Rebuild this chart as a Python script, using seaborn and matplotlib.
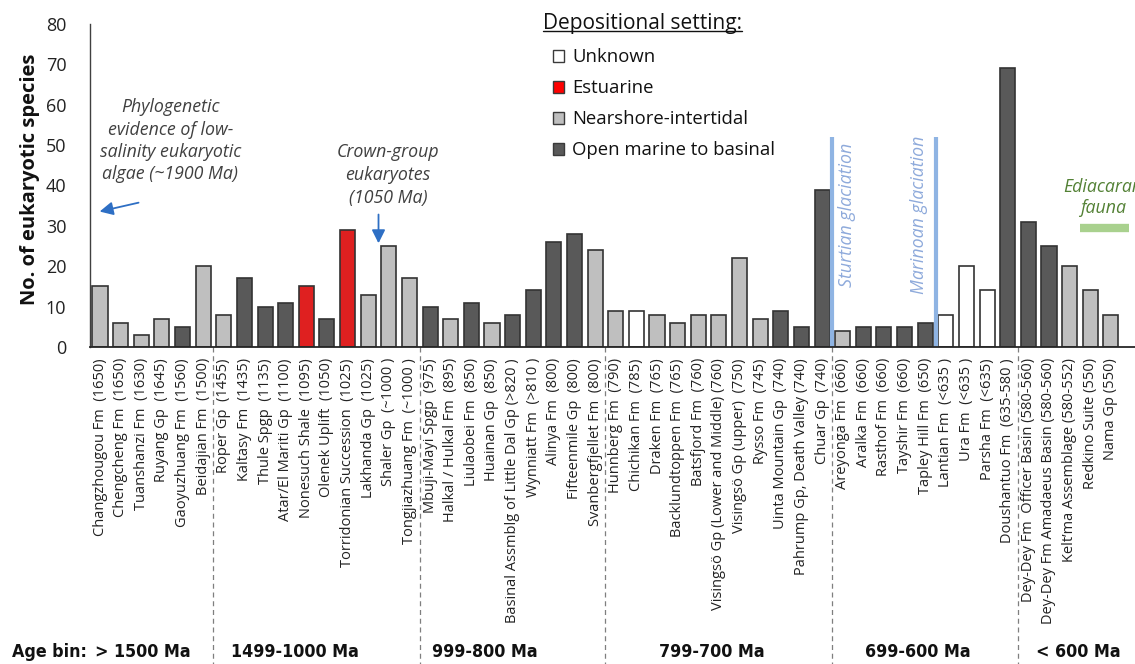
import matplotlib
matplotlib.use("Agg")
import matplotlib.pyplot as plt
import seaborn as sns
import pandas as pd
from matplotlib.patches import Patch
from matplotlib.lines import Line2D
import matplotlib.transforms as mtrans

# ---------------- data ----------------
formations = [
    "Changzhougou Fm  (1650)", "Chengcheng Fm  (1650)", "Tuanshanzi Fm  (1630)",
    "Ruyang Gp  (1645)", "Gaoyuzhuang Fm  (1560)", "Beidajian Fm  (1500)",
    "Roper Gp  (1455)", "Kaltasy Fm  (1435)", "Thule Spgp  (1135)",
    "Atar/El Mariti Gp  (1100)", "Nonesuch Shale  (1095)", "Olenek Uplift  (1050)",
    "Torridonian Succession  (1025)", "Lakhanda Gp  (1025)", "Shaler Gp  (~1000 )",
    "Tongjiazhuang Fm  (~1000 )",
    "Mbuji-Mayi Spgp  (975)", "Halkal / Hulkal Fm  (895)", "Liulaobei Fm  (850)",
    "Huainan Gp  (850)", "Basinal Assmblg of Little Dal Gp (>820 )", "Wynniatt Fm  (>810 )",
    "Alinya Fm  (800)", "Fifteenmile Gp  (800)", "Svanbergfjellet Fm  (800)",
    "Hunnberg Fm  (790)", "Chichikan Fm  (785)", "Draken Fm  (765)",
    "Backlundtoppen Fm  (765)", "Batsfjord Fm  (760)", "Visingsö Gp (Lower and Middle) (760)",
    "Visingsö Gp (upper)  (750)", "Rysso Fm  (745)", "Uinta Mountain Gp  (740)",
    "Pahrump Gp, Death Valley (740)", "Chuar Gp  (740)",
    "Areyonga Fm  (660)", "Aralka Fm  (660)", "Rasthof Fm  (660)", "Tayshir Fm  (660)",
    "Tapley Hill Fm  (650)", "Lantian Fm  (<635 )", "Ura Fm  (<635 )", "Parsha Fm  (<635)",
    "Doushantuo Fm  (635-580 )",
    "Dey-Dey Fm  Officer Basin (580-560)", "Dey-Dey Fm Amadaeus Basin (580-560)",
    "Kelt\u2019ma Assemblage (580-552)", "Redkino Suite (550)", "Nama Gp (550)",
]

species = [15, 6, 3, 7, 5, 20,
           8, 17, 10, 11, 15, 7, 29, 13, 25, 17,
           10, 7, 11, 6, 8, 14, 26, 28, 24,
           9, 9, 8, 6, 8, 8, 22, 7, 9, 5, 39,
           4, 5, 5, 5, 6, 8, 20, 14, 69,
           31, 25, 20, 14, 8]

U, E, N, O = "Unknown", "Estuarine", "Nearshore-intertidal", "Open marine to basinal"
settings = [N, N, N, N, O, N,
            N, O, O, O, E, O, E, N, N, N,
            O, N, O, N, O, O, O, O, N,
            N, U, N, N, N, N, N, N, O, O, O,
            N, O, O, O, O, U, U, U, O,
            O, O, N, N, N]

setting_order = [U, E, N, O]
age_bins = ["> 1500 Ma", "1499-1000 Ma", "999-800 Ma", "799-700 Ma", "699-600 Ma", "< 600 Ma"]
bin_sizes = [6, 10, 9, 11, 9, 5]

# ---------------- style ----------------
palette = {U: "#FFFFFF", E: "#FF0000", N: "#BFBFBF", O: "#595959"}
W, H = 1135, 664

sns.set_style("white")
plt.rcParams["font.family"] = ["Open Sans", "DejaVu Sans"]

fig = plt.figure(figsize=(W / 100, H / 100), dpi=100)
ax = fig.add_axes([90 / W, 1 - 347 / H, (W - 90) / W, (347 - 24) / H])

df = pd.DataFrame({"formation": formations, "n": species, "setting": settings})
sns.barplot(data=df, x="formation", y="n", hue="setting", order=formations,
            hue_order=setting_order, palette=palette, dodge=False, width=0.73,
            edgecolor="#333333", linewidth=1.2, errorbar=None, legend=False, ax=ax)

ax.set_xlim(-0.485, 50.17)
ax.set_ylim(0, 80)
ax.set_yticks(range(0, 81, 10))
ax.set_xlabel("")
ax.set_ylabel("No. of eukaryotic species", fontsize=14.5, fontweight="bold", color="#111111")
ax.yaxis.set_label_coords(-0.048, 0.52)
ax.tick_params(axis="y", length=0, pad=17, labelsize=13, labelcolor="#222222")
ax.tick_params(axis="x", length=0, pad=8, labelsize=10.5, labelcolor="#222222")
for lab in ax.get_xticklabels():
    lab.set_rotation(90)
for s in ["top", "right"]:
    ax.spines[s].set_visible(False)
ax.spines["left"].set_color("#404040")
ax.spines["bottom"].set_color("#262626")
ax.spines["left"].set_linewidth(1.0)
ax.spines["bottom"].set_linewidth(1.3)

def fx(px):
    return px / W

def fy(py):
    return 1 - py / H

# age-bin dividers (dashed, below axis)
blend = mtrans.blended_transform_factory(ax.transData, fig.transFigure)
cum = 0
for size in bin_sizes[:-1]:
    cum += size
    ax.plot([cum - 0.5, cum - 0.5], [fy(347), 0], transform=blend, clip_on=False,
            color="#7F7F7F", lw=0.9, ls=(0, (4, 3)))

# age bin labels
bin_font = dict(fontsize=12.8, fontweight="bold", family=["DejaVu Sans"],
                fontstretch="condensed", color="#111111")
fig.text(fx(12), fy(652), "Age bin:", ha="left", va="center", **bin_font)
bin_centers_px = [143, 295, 485, 712, 918, 1078]
for lab, cx in zip(age_bins, bin_centers_px):
    fig.text(fx(cx), fy(652), lab, ha="center", va="center", **bin_font)

# glaciation lines
glac_color = "#8FB4E3"
ax.vlines([35.5, 40.5], 0, 52, color=glac_color, lw=3)
ax.text(36.2, 32.7, "Sturtian glaciation", rotation=90, ha="center", va="center",
        fontsize=12.8, style="italic", color="#8EAADB")
ax.text(39.7, 32.7, "Marinoan glaciation", rotation=90, ha="center", va="center",
        fontsize=12.8, style="italic", color="#8EAADB")

# Ediacaran fauna
ax.hlines(29.5, 47.5, 49.9, color="#A9D18E", lw=6)
ax.text(48.6, 37.0, "Ediacaran\nfauna", ha="center", va="center", fontsize=12.8,
        style="italic", color="#538135", linespacing=1.25)

# annotations
arrow_col = "#2E6FC4"
ax.text(3.4, 51.1, "Phylogenetic\nevidence of low-\nsalinity eukaryotic\nalgae (~1900 Ma)",
        ha="center", va="center", fontsize=12.8, style="italic", color="#404040", linespacing=1.3)
ax.annotate("", xy=(-0.15, 33.4), xytext=(2.0, 35.9),
            arrowprops=dict(arrowstyle="-|>", color=arrow_col, lw=1.3, mutation_scale=20))
ax.text(13.95, 42.6, "Crown-group\neukaryotes\n(1050 Ma)",
        ha="center", va="center", fontsize=12.8, style="italic", color="#404040", linespacing=1.33)
ax.annotate("", xy=(13.5, 25.0), xytext=(13.5, 33.5),
            arrowprops=dict(arrowstyle="-|>", color=arrow_col, lw=1.3, mutation_scale=20))

# legend
title = fig.text(fx(543), fy(28.5), "Depositional setting:", ha="left", va="baseline",
                 fontsize=15, color="#111111")
handles = [Patch(facecolor=palette[s], edgecolor="#3A3A3A", linewidth=1.0) for s in setting_order]
leg = ax.legend(handles, setting_order, loc="upper left",
                bbox_to_anchor=(fx(553), fy(48.5)), bbox_transform=fig.transFigure,
                frameon=False, fontsize=13.3, handlelength=0.6,
                handleheight=0.6, handletextpad=0.45, labelspacing=0.7,
                borderaxespad=0, borderpad=0)
for t in leg.get_texts():
    t.set_color("#111111")
fig.canvas.draw()
r = fig.canvas.get_renderer()
bb = title.get_window_extent(r)
ul = Line2D([bb.x0 / W, bb.x1 / W], [fy(31), fy(31)],
            transform=fig.transFigure, color="#111111", lw=1.0)
fig.add_artist(ul)

fig.savefig("out.png", dpi=100)
